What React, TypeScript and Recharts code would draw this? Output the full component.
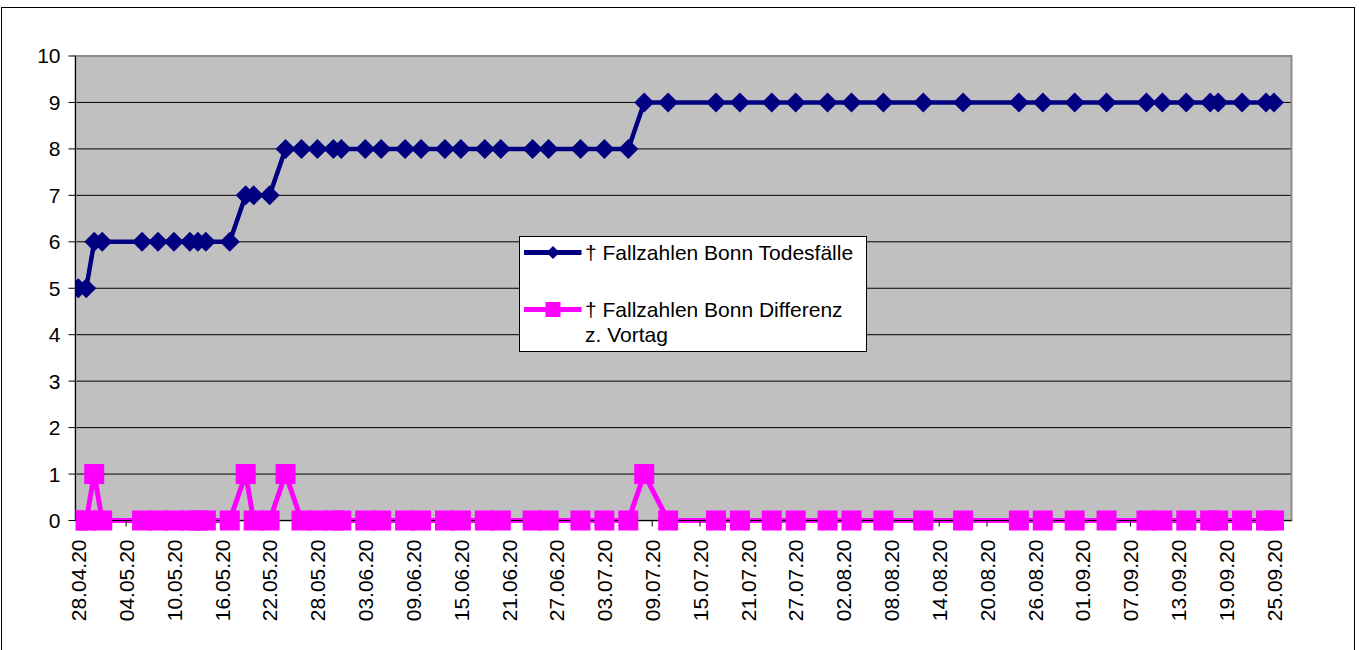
import React from 'react';
import { LineChart, Line, XAxis, YAxis, CartesianGrid, Legend, ReferenceArea } from 'recharts';

const dates = [
  '28.04.20', '29.04.20', '30.04.20', '01.05.20', '06.05.20', '08.05.20', '10.05.20', '12.05.20',
  '13.05.20', '14.05.20', '17.05.20', '19.05.20', '20.05.20', '22.05.20', '24.05.20', '26.05.20',
  '28.05.20', '30.05.20', '31.05.20', '03.06.20', '05.06.20', '08.06.20', '10.06.20', '13.06.20',
  '15.06.20', '18.06.20', '20.06.20', '24.06.20', '26.06.20', '30.06.20', '03.07.20', '06.07.20',
  '08.07.20', '11.07.20', '17.07.20', '20.07.20', '24.07.20', '27.07.20', '31.07.20', '03.08.20',
  '07.08.20', '12.08.20', '17.08.20', '24.08.20', '27.08.20', '31.08.20', '04.09.20', '09.09.20',
  '11.09.20', '14.09.20', '17.09.20', '18.09.20', '21.09.20', '24.09.20', '25.09.20',
];

const deaths = [
  5, 5, 6, 6, 6, 6, 6, 6,
  6, 6, 6, 7, 7, 7, 8, 8,
  8, 8, 8, 8, 8, 8, 8, 8,
  8, 8, 8, 8, 8, 8, 8, 8,
  9, 9, 9, 9, 9, 9, 9, 9,
  9, 9, 9, 9, 9, 9, 9, 9,
  9, 9, 9, 9, 9, 9, 9,
];

const diffs = [
  0, 0, 1, 0, 0, 0, 0, 0,
  0, 0, 0, 1, 0, 0, 1, 0,
  0, 0, 0, 0, 0, 0, 0, 0,
  0, 0, 0, 0, 0, 0, 0, 0,
  1, 0, 0, 0, 0, 0, 0, 0,
  0, 0, 0, 0, 0, 0, 0, 0,
  0, 0, 0, 0, 0, 0, 0,
];

const tickLabels = [
  '28.04.20', '04.05.20', '10.05.20', '16.05.20', '22.05.20', '28.05.20', '03.06.20', '09.06.20',
  '15.06.20', '21.06.20', '27.06.20', '03.07.20', '09.07.20', '15.07.20', '21.07.20', '27.07.20',
  '02.08.20', '08.08.20', '14.08.20', '20.08.20', '26.08.20', '01.09.20', '07.09.20', '13.09.20',
  '19.09.20', '25.09.20',
];

const yTicks = [0, 1, 2, 3, 4, 5, 6, 7, 8, 9, 10];

const seriesNames = ['† Fallzahlen Bonn Todesfälle', '† Fallzahlen Bonn Differenz z. Vortag'];

const FONT = '"Liberation Sans", Arial, sans-serif';
const FS = 21;
const BLUE = '#000080';
const PINK = '#FF00FF';

function dayIndex(s: string): number {
  const [d, m, y] = s.split('.').map(Number);
  const t = Date.UTC(2000 + y, m - 1, d);
  const t0 = Date.UTC(2020, 3, 28);
  return Math.round((t - t0) / 86400000);
}

const data = dates.map((d, i) => ({ day: dayIndex(d), date: d, deaths: deaths[i], diff: diffs[i] }));
const xTicks = tickLabels.map(dayIndex);
const labelByDay: Record<number, string> = {};
tickLabels.forEach((l) => { labelByDay[dayIndex(l)] = l; });

const DiamondDot = (props: any) => {
  const { cx, cy, index } = props;
  if (cx == null || cy == null) return <g key={`dd${index}`} />;
  const r = 10;
  return (
    <path
      key={`dd${index}`}
      d={`M${cx},${cy - r}L${cx + r},${cy}L${cx},${cy + r}L${cx - r},${cy}Z`}
      fill={BLUE}
      stroke="none"
    />
  );
};

const SquareDot = (props: any) => {
  const { cx, cy, index } = props;
  if (cx == null || cy == null) return <g key={`sd${index}`} />;
  const h = 10;
  return <rect key={`sd${index}`} x={cx - h} y={cy - h} width={2 * h} height={2 * h} fill={PINK} stroke="none" />;
};

const XTick = (props: any) => {
  const { x, y, payload } = props;
  const label = labelByDay[payload.value] ?? '';
  return (
    <text
      x={x}
      y={y}
      transform={`rotate(-90, ${x}, ${y})`}
      textAnchor="end"
      dx={-11}
      dy={7.8}
      fontSize={FS}
      fontFamily={FONT}
      fill="#000"
    >
      {label}
    </text>
  );
};

const LegendBox = () => (
  <svg width={348} height={116} style={{ display: 'block' }}>
    <rect x={0.5} y={0.5} width={347} height={115} fill="#fff" stroke="#000" strokeWidth={1} />
    <line x1={5} y1={16.5} x2={62.5} y2={16.5} stroke={BLUE} strokeWidth={5} />
    <path d="M34,10L40.5,16.5L34,23L27.5,16.5Z" fill={BLUE} />
    <text x={66} y={24} fontSize={FS} fontFamily={FONT} fill="#000">{seriesNames[0]}</text>
    <line x1={5} y1={73.5} x2={62.5} y2={73.5} stroke={PINK} strokeWidth={5} />
    <rect x={26.5} y={66} width={15} height={15} fill={PINK} />
    <text x={66} y={80.5} fontSize={FS} fontFamily={FONT} fill="#000">{seriesNames[1].replace(' z. Vortag', '')}</text>
    <text x={66} y={105.5} fontSize={FS} fontFamily={FONT} fill="#000">z. Vortag</text>
  </svg>
);

export default function App() {
  return (
    <div style={{ position: 'absolute', left: 0, top: 0, width: 1359, height: 650, background: '#fff', overflow: 'hidden' }}>
      <style>{'body{margin:0;overflow:hidden}'}</style>
      <div
        style={{
          position: 'absolute',
          left: 1,
          top: 7,
          width: 1354,
          height: 643,
          boxSizing: 'border-box',
          borderLeft: '1px solid #000',
          borderTop: '1px solid #000',
          borderRight: '1px solid #000',
        }}
      />
      <div style={{ position: 'absolute', left: 0, top: 0 }}>
        <LineChart
          width={1359}
          height={650}
          data={data}
          margin={{ top: 56, right: 67.5, left: 0, bottom: 29.5 }}
        >
          <CartesianGrid fill="#C0C0C0" fillOpacity={1} vertical={false} stroke="#000" strokeOpacity={1} />
          <ReferenceArea
            x1={-0.35}
            x2={152.2}
            y1={0}
            y2={10}
            fill="none"
            fillOpacity={0}
            stroke="#8c8c8c"
            strokeWidth={2}
            ifOverflow="visible"
          />
          <XAxis
            type="number"
            dataKey="day"
            domain={[-0.35, 152.2]}
            allowDataOverflow
            ticks={xTicks}
            interval={0}
            height={100}
            tickSize={6}
            tickMargin={2}
            axisLine={{ stroke: '#000', strokeWidth: 1 }}
            tickLine={{ stroke: '#000', strokeWidth: 1 }}
            tick={<XTick />}
          />
          <YAxis
            type="number"
            domain={[0, 10]}
            ticks={yTicks}
            interval={0}
            width={75.5}
            tickSize={7}
            tickMargin={8}
            axisLine={{ stroke: '#000', strokeWidth: 1 }}
            tickLine={{ stroke: '#000', strokeWidth: 1 }}
            tick={{ fontSize: FS, fontFamily: FONT, fill: '#000' }}
          />
          <Line
            type="linear"
            dataKey="deaths"
            name={seriesNames[0]}
            stroke={BLUE}
            strokeWidth={4.5}
            dot={DiamondDot}
            activeDot={false}
            isAnimationActive={false}
          />
          <Line
            type="linear"
            dataKey="diff"
            name={seriesNames[1]}
            stroke={PINK}
            strokeWidth={5}
            dot={SquareDot}
            activeDot={false}
            isAnimationActive={false}
          />
          <Legend
            layout="vertical"
            align="center"
            verticalAlign="middle"
            content={<LegendBox />}
            wrapperStyle={{ left: 519, top: 236, width: 348, height: 116, margin: 0, padding: 0 }}
          />
        </LineChart>
      </div>
    </div>
  );
}
